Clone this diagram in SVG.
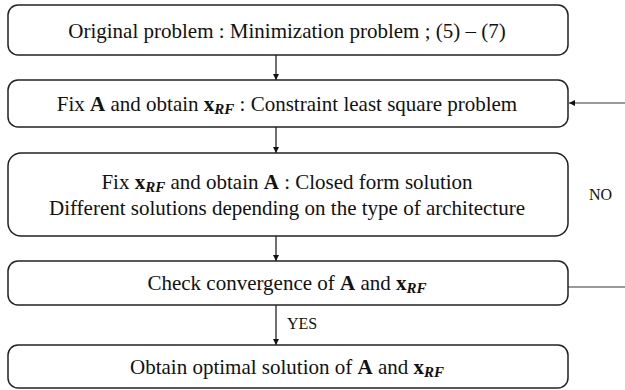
<svg xmlns="http://www.w3.org/2000/svg" width="625" height="390" viewBox="0 0 625 390">
<defs>
<marker id="ah" viewBox="0 0 10 10" refX="10" refY="5" markerWidth="6" markerHeight="6" markerUnits="userSpaceOnUse" orient="auto"><path d="M0,0 L10,5 L0,10 z" fill="#111"/></marker>
<marker id="ahg" viewBox="0 0 10 10" refX="10" refY="5" markerWidth="6" markerHeight="6" markerUnits="userSpaceOnUse" orient="auto"><path d="M0,0 L10,5 L0,10 z" fill="#111"/></marker>
<style>
.box{fill:#fff;stroke:#222;stroke-width:1.5}
.t{font-family:"Liberation Serif","Times New Roman",serif;font-size:21px;fill:#111;text-anchor:middle}
.l{font-family:"Liberation Serif","Times New Roman",serif;font-size:16px;fill:#111}
.b{font-weight:bold}
.s{font-weight:bold;font-style:italic;font-size:15px}
.c{stroke:#111;stroke-width:1.2;fill:none}
.g{stroke:#777;stroke-width:1.5;fill:none}
</style>
</defs>
<g id="connectors">
<line class="c" x1="276" y1="55" x2="276" y2="80" marker-end="url(#ah)"/>
<line class="c" x1="276" y1="127" x2="276" y2="153" marker-end="url(#ah)"/>
<line class="c" x1="276" y1="236" x2="276" y2="261" marker-end="url(#ah)"/>
<line class="c" x1="276" y1="305" x2="276" y2="345" marker-end="url(#ah)"/>
<line class="g" x1="568" y1="287" x2="625" y2="287"/>
<line class="g" x1="625" y1="103" x2="569" y2="103" marker-end="url(#ahg)"/>
<text class="l" x="287" y="329">YES</text>
<text class="l" x="589" y="200">NO</text>
</g>
<g id="n1">
<rect class="box" x="8" y="5" width="560" height="50" rx="10"/>
<text class="t" x="287" y="38">Original problem : Minimization problem ; (5) – (7)</text>
</g>
<g id="n2">
<rect class="box" x="8" y="80" width="560" height="47" rx="10"/>
<text class="t" x="287" y="111">Fix <tspan class="b">A</tspan> and obtain <tspan class="b">x</tspan><tspan class="s" dy="3">RF</tspan><tspan dy="-3"> : Constraint least square problem</tspan></text>
</g>
<g id="n3">
<rect class="box" x="8" y="153" width="560" height="83" rx="13"/>
<text class="t" x="287" y="189">Fix <tspan class="b">x</tspan><tspan class="s" dy="3">RF</tspan><tspan dy="-3"> and obtain </tspan><tspan class="b">A</tspan> : Closed form solution</text>
<text class="t" x="287" y="215">Different solutions depending on the type of architecture</text>
</g>
<g id="n4">
<rect class="box" x="8" y="261" width="560" height="44" rx="10"/>
<text class="t" x="287" y="290">Check convergence of <tspan class="b">A</tspan> and <tspan class="b">x</tspan><tspan class="s" dy="3">RF</tspan></text>
</g>
<g id="n5">
<rect class="box" x="8" y="345" width="560" height="43" rx="10"/>
<text class="t" x="287" y="374">Obtain optimal solution of <tspan class="b">A</tspan> and <tspan class="b">x</tspan><tspan class="s" dy="3">RF</tspan></text>
</g>
</svg>
